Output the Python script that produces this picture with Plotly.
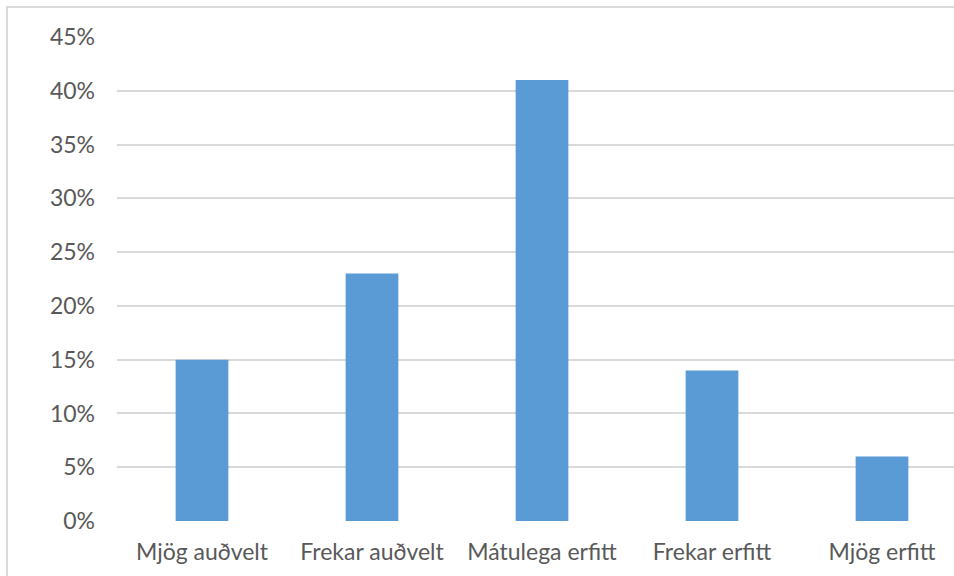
import plotly.graph_objects as go

categories = ["Mjög auðvelt", "Frekar auðvelt", "Mátulega erfitt", "Frekar erfitt", "Mjög erfitt"]
values = [15, 23, 41, 14, 6]
y_ticks = [0, 5, 10, 15, 20, 25, 30, 35, 40, 45]
y_tick_labels = [f"{v}%" for v in y_ticks]

W, H = 954, 576
L, R, T, B = 117, 0, 37, 576 - 521
pw, ph = W - L - R, H - T - B

def px_x(px):
    return (px - L) / pw

def px_y(py):
    return (H - B - py) / ph

fig = go.Figure(go.Bar(
    x=list(range(len(categories))),
    y=values,
    width=0.31,
    marker=dict(color="#5b9bd5", line=dict(width=0)),
    hoverinfo="skip",
))

fig.update_layout(
    width=W, height=H,
    margin=dict(l=L, r=R, t=T, b=B, pad=0),
    paper_bgcolor="white", plot_bgcolor="white",
    font=dict(family="Lato", size=23, color="#595959"),
    showlegend=False,
    xaxis=dict(
        range=[-0.5, -0.5 + pw / 170],
        tickmode="array",
        tickvals=list(range(len(categories))),
        ticktext=categories,
        showgrid=False, zeroline=False,
        showline=False,
        ticks="", ticklabelstandoff=15,
        fixedrange=True,
    ),
    yaxis=dict(
        range=[0, 45],
        tickmode="array",
        tickvals=y_ticks,
        ticktext=y_tick_labels,
        showgrid=True, gridcolor="#d9d9d9", gridwidth=1.5,
        zeroline=False, showline=False,
        ticks="", ticklabelstandoff=21,
        fixedrange=True,
    ),
    shapes=[
        dict(type="line", xref="paper", yref="paper",
             x0=px_x(7), x1=px_x(7), y0=px_y(600), y1=px_y(7),
             line=dict(color="#d9d9d9", width=2), layer="above"),
        dict(type="line", xref="paper", yref="paper",
             x0=px_x(6), x1=px_x(1000), y0=px_y(7), y1=px_y(7),
             line=dict(color="#d9d9d9", width=2), layer="above"),
    ],
)

fig.write_html(
    "out.html",
    config={"displayModeBar": False},
    post_script="document.body.style.margin='0';document.body.style.overflow='hidden';",
)
